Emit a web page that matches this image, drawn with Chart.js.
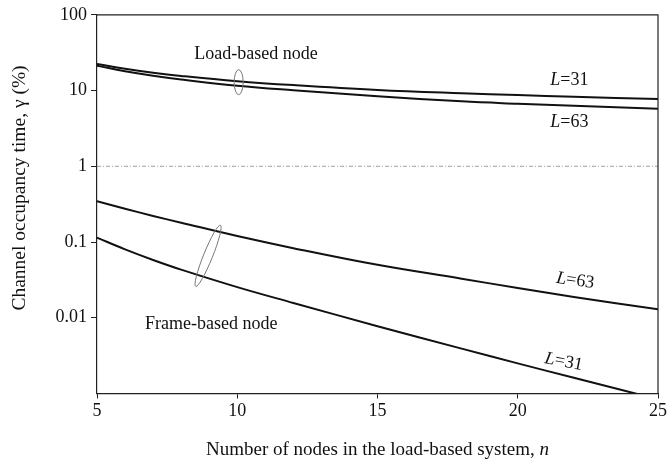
<!DOCTYPE html>
<html>
<head>
<meta charset="utf-8">
<script src="https://cdn.jsdelivr.net/npm/chart.js@4/dist/chart.umd.min.js"></script>
<style>
  html, body { margin: 0; padding: 0; background: #fff; }
  #wrap { width: 669px; height: 466px; }
</style>
</head>
<body>
<div id="wrap"><canvas id="myChart" width="669" height="466"></canvas></div>
<script>
const nodes = [5, 6, 7, 8, 10, 12, 15, 18, 20, 22, 25];
const loadL31 = [22.5, 19.4, 17.2, 15.6, 13.3, 11.8, 10.2, 9.2, 8.7, 8.25, 7.75];
const loadL63 = [21.2, 18.0, 15.7, 14.0, 11.6, 10.1, 8.4, 7.2, 6.7, 6.3, 5.75];
const frameL63 = [0.347, 0.275, 0.221, 0.180, 0.120, 0.083, 0.050, 0.0328, 0.0247, 0.0188, 0.0129];
const frameL31 = [0.114, 0.080, 0.058, 0.0432, 0.0254, 0.0157, 0.00774, 0.00391, 0.0025, 0.00161, 0.00084];
const refLine = [1, 1];
const xTicks = [5, 10, 15, 20, 25];
const yTicks = [0.01, 0.1, 1, 10, 100];

const serif = '"Liberation Serif", "DejaVu Serif", serif';

function toPoints(ys) {
    return ys.map((y, i) => ({ x: nodes[i], y: y }));
}

function curve(ys) {
    return {
        data: toPoints(ys),
        borderColor: '#111',
        borderWidth: 2,
        pointRadius: 0,
        tension: 0.4,
        fill: false
    };
}

// draw text made of [string, italic] pieces, centred on (x, y)
function drawRich(ctx, parts, x, y, angle, size) {
    ctx.save();
    ctx.translate(x, y);
    ctx.rotate(angle * Math.PI / 180);
    ctx.textAlign = 'left';
    ctx.textBaseline = 'middle';
    let total = 0;
    parts.forEach(p => {
        ctx.font = (p[1] ? 'italic ' : '') + size + 'px ' + serif;
        total += ctx.measureText(p[0]).width;
    });
    let cx = -total / 2;
    parts.forEach(p => {
        ctx.font = (p[1] ? 'italic ' : '') + size + 'px ' + serif;
        ctx.fillText(p[0], cx, 0);
        cx += ctx.measureText(p[0]).width;
    });
    ctx.restore();
}

const decor = {
    id: 'decor',
    afterDatasetsDraw(chart) {
        const ctx = chart.ctx;
        const xs = chart.scales.x, ys = chart.scales.y;
        const a = chart.chartArea;
        const px = (v) => xs.getPixelForValue(v);
        const py = (v) => ys.getPixelForValue(v);

        ctx.save();
        // frame top / right
        ctx.strokeStyle = '#222';
        ctx.lineWidth = 1.2;
        ctx.beginPath();
        ctx.moveTo(a.left, a.top);
        ctx.lineTo(a.right, a.top);
        ctx.lineTo(a.right, a.bottom);
        ctx.stroke();

        // ellipses grouping the curve pairs
        ctx.strokeStyle = '#777';
        ctx.lineWidth = 1;
        ctx.beginPath();
        ctx.ellipse(px(10.05), py(12.9), 4.5, 12.5, 0, 0, Math.PI * 2);
        ctx.stroke();
        ctx.beginPath();
        ctx.ellipse(px(8.96), py(0.0658), 4.5, 33, 22 * Math.PI / 180, 0, Math.PI * 2);
        ctx.stroke();

        ctx.fillStyle = '#111';
        drawRich(ctx, [['Load-based node', false]], px(10.67), py(30.5), 0, 18);
        drawRich(ctx, [['Frame-based node', false]], px(9.07), py(0.00817), 0, 18);

        drawRich(ctx, [['L', true], ['=31', false]], px(21.84), py(13.5), 0, 18);
        drawRich(ctx, [['L', true], ['=63', false]], px(21.84), py(3.85), 0, 18);
        drawRich(ctx, [['L', true], ['=63', false]], px(22.05), py(0.0309), 8, 18);
        drawRich(ctx, [['L', true], ['=31', false]], px(21.64), py(0.00261), 11, 18);

        // axis titles
        drawRich(ctx, [['Number of nodes in the load-based system, ', false], ['n', true]],
            (a.left + a.right) / 2, 450, 0, 19);
        drawRich(ctx, [['Channel occupancy time, γ (%)', false]], 20, 188, -90, 19.5);
        ctx.restore();
    }
};

new Chart(document.querySelector('#myChart').getContext('2d'), {
    type: 'line',
    data: {
        datasets: [
            curve(loadL31),
            curve(loadL63),
            curve(frameL63),
            curve(frameL31),
            {
                data: [{ x: 5, y: refLine[0] }, { x: 25, y: refLine[1] }],
                borderColor: '#888',
                borderWidth: 0.8,
                borderDash: [4, 2, 1, 2],
                pointRadius: 0
            }
        ]
    },
    options: {
        responsive: false,
        animation: false,
        layout: { padding: { left: 0, top: 13, right: 9, bottom: 0 } },
        plugins: {
            legend: { display: false },
            tooltip: { enabled: false }
        },
        scales: {
            x: {
                type: 'linear',
                min: 5,
                max: 25,
                afterBuildTicks: (s) => { s.ticks = xTicks.map(v => ({ value: v })); },
                afterFit: (s) => { s.height = 72.5; },
                grid: { drawOnChartArea: false, color: '#222', tickLength: 5 },
                border: { color: '#222', width: 1.2 },
                ticks: { color: '#111', font: { family: serif, size: 18 }, padding: 2 }
            },
            y: {
                type: 'logarithmic',
                min: 0.001,
                max: 100,
                afterBuildTicks: (s) => { s.ticks = yTicks.map(v => ({ value: v })); },
                afterFit: (s) => { s.width = 97; },
                grid: { drawOnChartArea: false, color: '#222', tickLength: 6 },
                border: { color: '#222', width: 1.2 },
                ticks: {
                    color: '#111',
                    font: { family: serif, size: 18 },
                    padding: 4,
                    callback: (v) => String(v)
                }
            }
        }
    },
    plugins: [decor]
});
</script>
</body>
</html>
